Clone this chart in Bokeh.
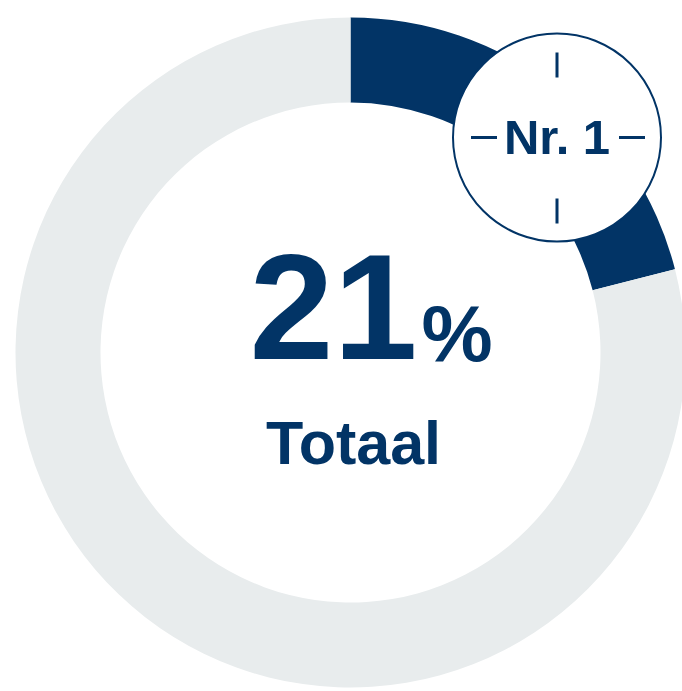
import math
from bokeh.plotting import figure
from bokeh.models import Range1d
from bokeh.core.properties import value
from bokeh.embed import file_html
from bokeh.resources import INLINE

# Data
categories = ["Nr. 1", "Overig"]
shares = [21, 79]
colors = ["#023466", "#E8ECED"]
main_label = "21"
pct_label = "%"
sub_label = "Totaal"
badge_label = "Nr. 1"

NAVY = "#023466"
W, H = 682, 691

p = figure(width=W, height=H, x_range=Range1d(0, W), y_range=Range1d(0, H),
           output_backend="svg", toolbar_location=None, min_border=0)
p.axis.visible = False
p.grid.visible = False
p.outline_line_color = None
p.background_fill_color = "white"
p.border_fill_color = "white"

cx, cy = 350, H - 352
total = sum(shares)
starts, ends = [], []
acc = 0
for s in shares:
    starts.append(math.pi / 2 - acc / total * 2 * math.pi)
    acc += s
    ends.append(math.pi / 2 - acc / total * 2 * math.pi)

p.annular_wedge(x=[cx] * len(shares), y=[cy] * len(shares), inner_radius=250, outer_radius=335,
                start_angle=starts, end_angle=ends, direction="clock",
                fill_color=colors, line_color=None)

# Badge
bx, by, br = 556.5, H - 137, 104
p.circle(x=[bx], y=[by], radius=br, fill_color="white", line_color=NAVY, line_width=2)
p.segment(x0=[bx, bx, bx - 86, bx + 62], y0=[by + 85, by - 61, by, by],
          x1=[bx, bx, bx - 60, bx + 88], y1=[by + 60, by - 86, by, by],
          line_color=NAVY, line_width=3)
p.text(x=[bx], y=[H - 136], text=[badge_label], text_font=value("Liberation Sans"),
       text_font_style="bold", text_font_size="49px", text_color=NAVY,
       text_align="center", text_baseline="alphabetic")

# Center labels
p.text(x=[249], y=[H - 306], text=[main_label], text_font=value("Liberation Sans"),
       text_font_style="bold", text_font_size="151px", text_color=NAVY,
       text_align="left", text_baseline="alphabetic")
p.text(x=[421], y=[H - 333], text=[pct_label], text_font=value("Liberation Sans"),
       text_font_style="bold", text_font_size="80px", text_color=NAVY,
       text_align="left", text_baseline="alphabetic")
p.text(x=[353], y=[H - 442], text=[sub_label], text_font=value("Liberation Sans"),
       text_font_style="bold", text_font_size="61px", text_color=NAVY,
       text_align="center", text_baseline="alphabetic")

open("out.html", "w").write(file_html(p, INLINE))
